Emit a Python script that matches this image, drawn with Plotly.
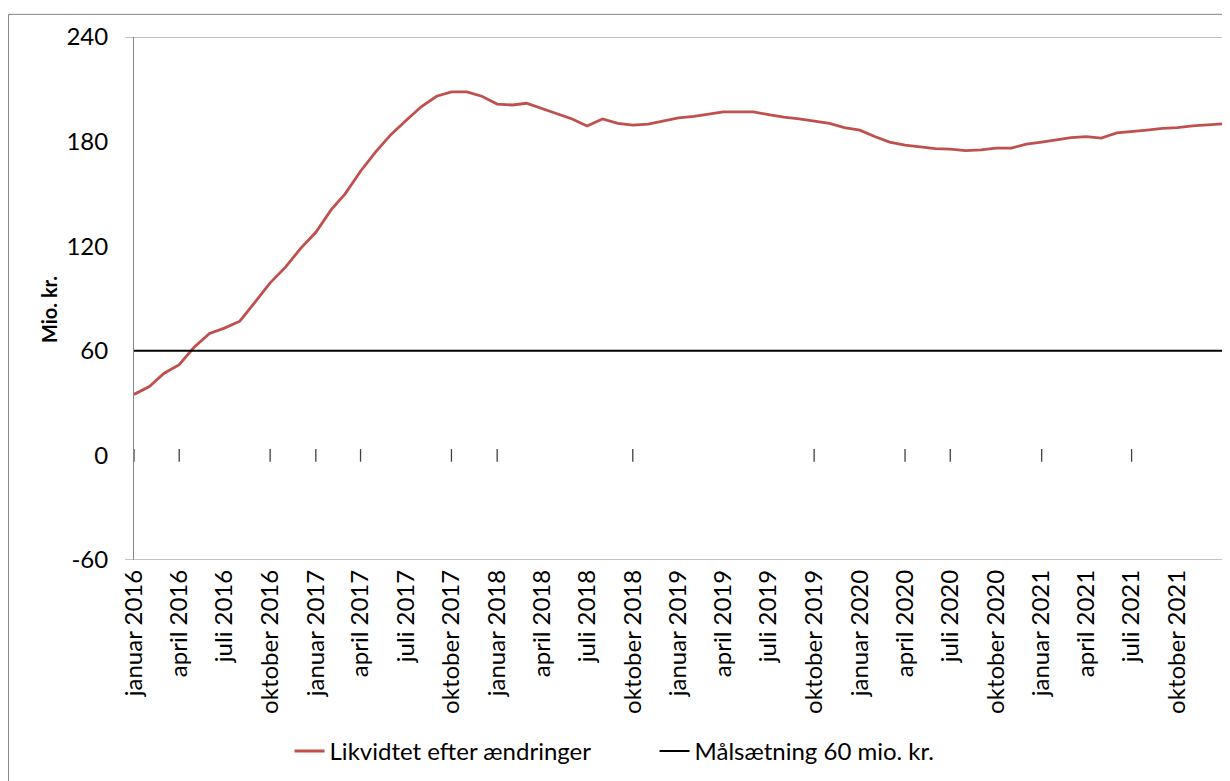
import plotly.graph_objects as go
import pandas as pd

# Monthly observations, January 2016 - January 2022 (mio. kr.)
dates = pd.date_range("2016-01-01", "2022-01-01", freq="MS")
likviditet = [
    35, 39.5, 47, 52, 62, 70, 73, 77, 88, 99, 108, 118.6,
    128, 141, 150, 163, 174, 184, 192, 200, 206, 208.5, 208.5, 206,
    201.5, 201, 202, 199, 196, 193, 189, 193, 190.5, 189.5, 190, 191.7,
    193.6, 194.5, 195.5, 197, 197, 197, 195.5, 194, 193, 191.7, 190.4, 188,
    186.6, 182.8, 179.7, 178, 177, 176, 175.7, 174.8, 175.3, 176.3, 176.3, 178.5,
    179.7, 181, 182.3, 182.8, 182, 185, 185.6, 186.6, 187.6, 188, 189, 189.8,
    190.2,
]
maal_dates = ["2016-01-01", "2022-01-01"]
maal = [60, 60]

y_ticks = [-60, 0, 60, 120, 180, 240]
y_text = ["-60", "0", "60", "120", "180", "240"]

month_names = ["januar", "april", "juli", "oktober"]
tick_dates = pd.date_range("2016-01-01", "2021-10-01", freq="QS")
tick_text = [f"{month_names[(d.month - 1) // 3]} {d.year}" for d in tick_dates]

# small tick marks drawn on the zero line
zero_ticks = ["2016-01-01", "2016-04-01", "2016-10-01", "2017-01-01", "2017-04-01",
              "2017-10-01", "2018-01-01", "2018-10-01", "2019-10-01", "2020-04-01",
              "2020-07-01", "2021-01-01", "2021-07-01", "2022-01-01"]
zero_vals = [0] * len(zero_ticks)

FONT = "Lato"
GRAY = "#868686"

fig = go.Figure()
fig.add_trace(go.Scatter(
    x=dates, y=likviditet, mode="lines", name="Likvidtet efter ændringer",
    line=dict(color="#C0504D", width=2.8),
))
fig.add_trace(go.Scatter(
    x=maal_dates, y=maal, mode="lines", name="Målsætning 60 mio. kr.",
    line=dict(color="#000000", width=2),
))
fig.add_trace(go.Scatter(
    x=zero_ticks, y=zero_vals, mode="markers", showlegend=False, hoverinfo="skip",
    marker=dict(symbol="line-ns", size=9, line=dict(width=1.3, color="#404040")),
))

# page body has an 8px margin, so the figure is drawn 8px in from the window edge
fig.update_layout(
    width=1222, height=773,
    margin=dict(l=126, r=7, t=29, b=213),
    paper_bgcolor="white", plot_bgcolor="white",
    font=dict(family=FONT, size=24, color="black"),
    showlegend=True,
    legend=dict(orientation="h", x=0.478, xanchor="center", y=-0.366, yanchor="middle",
                font=dict(family=FONT, size=24, color="black"),
                bgcolor="rgba(0,0,0,0)", entrywidth=320, entrywidthmode="pixels"),
    xaxis=dict(
        type="date", range=["2016-01-01", "2022-01-01"],
        tickvals=tick_dates, ticktext=tick_text, tickangle=-90,
        showgrid=False, zeroline=False, showline=False, ticks="",
        ticklabelstandoff=4, automargin=False,
        tickfont=dict(family=FONT, size=24, color="black"),
    ),
    yaxis=dict(
        range=[-60, 240], tickvals=y_ticks, ticktext=y_text,
        showgrid=False, zeroline=False, showline=True, linecolor=GRAY, linewidth=1,
        ticks="", ticklabelstandoff=20, automargin=False,
        tickfont=dict(family=FONT, size=24, color="black"),
    ),
    annotations=[dict(
        text="<b>Mio. kr.</b>", textangle=-90, showarrow=False,
        xref="paper", yref="paper", x=-0.078, y=0.478,
        xanchor="center", yanchor="middle",
        font=dict(family=FONT, size=20, color="black"),
    )],
    shapes=[
        dict(type="line", xref="paper", yref="y", x0=-0.0083, x1=1, y0=240, y1=240,
             line=dict(color=GRAY, width=1)),
        dict(type="line", xref="paper", yref="y", x0=-0.0083, x1=1, y0=-60, y1=-60,
             line=dict(color=GRAY, width=1)),
        dict(type="rect", xref="paper", yref="paper", x0=-0.1152, x1=1.02, y0=-0.5, y1=1.0433,
             line=dict(color=GRAY, width=1), layer="below"),
    ],
)

fig.write_html("out.html")
